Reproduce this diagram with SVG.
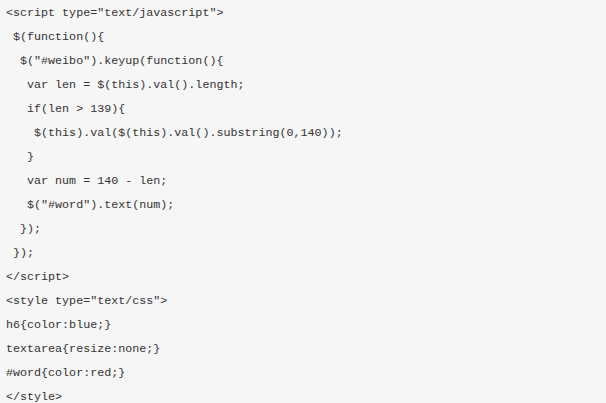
<svg xmlns="http://www.w3.org/2000/svg" width="606" height="403" viewBox="0 0 606 403">
<style>text{font-family:"Liberation Mono","Noto Sans CJK SC",monospace;font-size:11.7px;fill:#333;white-space:pre}</style>
<rect width="606" height="403" fill="#f6f6f6"/>
<g id="code">
<text x="6" y="16">&lt;script type="text/javascript"&gt;</text>
<text x="6" y="40"> $(function(){</text>
<text x="6" y="64">  $("#weibo").keyup(function(){</text>
<text x="6" y="88">   var len = $(this).val().length;</text>
<text x="6" y="112">   if(len &gt; 139){</text>
<text x="6" y="136">    $(this).val($(this).val().substring(0,140));</text>
<text x="6" y="160">   }</text>
<text x="6" y="184">   var num = 140 - len;</text>
<text x="6" y="208">   $("#word").text(num);</text>
<text x="6" y="232">  });</text>
<text x="6" y="256"> });</text>
<text x="6" y="280">&lt;/script&gt;</text>
<text x="6" y="304">&lt;style type="text/css"&gt;</text>
<text x="6" y="328">h6{color:blue;}</text>
<text x="6" y="352">textarea{resize:none;}</text>
<text x="6" y="376">#word{color:red;}</text>
<text x="6" y="400">&lt;/style&gt;</text>
</g>
</svg>
